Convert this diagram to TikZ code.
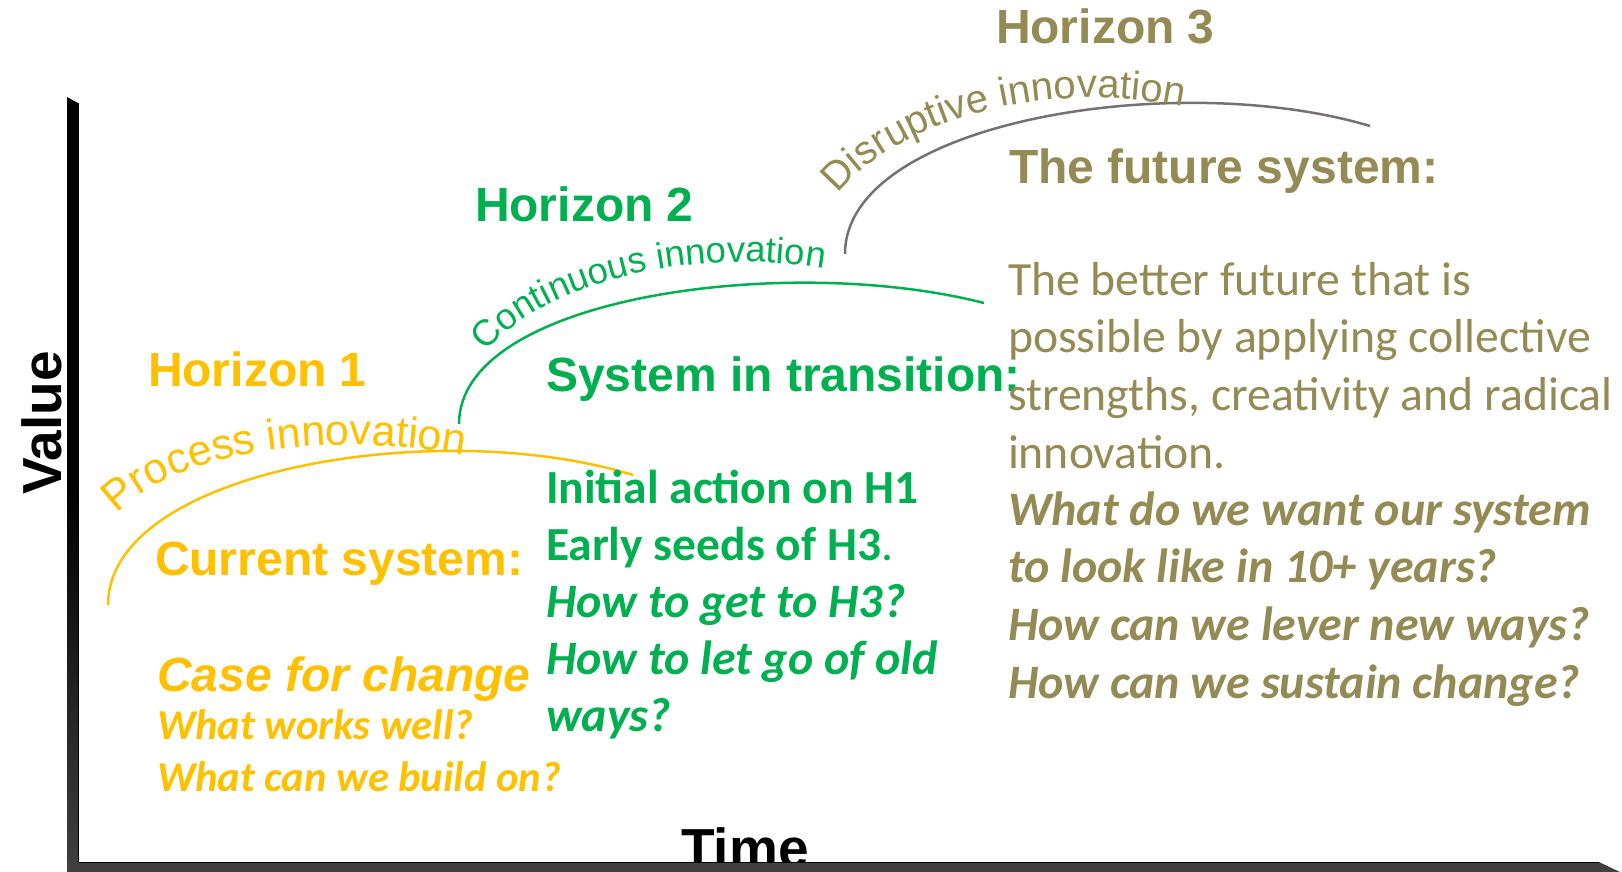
\documentclass[tikz,border=0pt]{standalone}
\usepackage{fontspec}
\setmainfont{Liberation Sans}
\newfontfamily\calfont{Carlito}
\usetikzlibrary{decorations.text}
\definecolor{hone}{HTML}{FFC000}
\definecolor{htwo}{HTML}{00B050}
\definecolor{hthree}{HTML}{948A54}
\definecolor{arcgray}{HTML}{767171}
\definecolor{axgray}{HTML}{404040}
\newcommand\fsz[1]{\fontsize{#1}{#1}\selectfont}
\begin{document}
\begin{tikzpicture}[x=1pt,y=-1pt,
  txt/.style={anchor=base west, inner sep=0pt, outer sep=0pt},
  head/.style={txt, font=\fsz{48}\bfseries},
  headit/.style={txt, font=\fsz{48}\bfseries\itshape},
  cal/.style={txt, font=\calfont\fsz{47.5}\bfseries},
  calit/.style={txt, font=\calfont\fsz{48}\bfseries\itshape},
  calrm/.style={txt, font=\calfont\fsz{47.7}},
  calq/.style={txt, font=\calfont\fsz{42.5}\bfseries\itshape},
  arc/.style={line width=2.5pt},
  arctext/.style={decorate, decoration={text along path, text align=left, text color=#1}}
]
\useasboundingbox (0,0) rectangle (1622,872);

% ---------- arcs ----------
\coordinate (ya) at (108,605); \coordinate (yb) at (633,475);
\coordinate (ga) at (459,424); \coordinate (gb) at (984,303);
\coordinate (ka) at (845,254); \coordinate (kb) at (1370,126);
\draw[arc, hone]   (ya) .. controls +(0,-135) and +(-195,-60) .. (yb);
\draw[arc, htwo]   (ga) .. controls +(0,-128) and +(-195,-50) .. (gb);
\draw[arc, arcgray] (ka) .. controls +(0,-132) and +(-195,-58) .. (kb);

% ---------- curved labels ----------
\path[arctext=hone, decoration={text={|\fsz{43}|Process innovation}}]
  (117,514) .. controls (166,462) and (300,424) .. (480,458);
\path[arctext=htwo, decoration={text={|\fsz{36.5}|Continuous innovation}}]
  (486,352) .. controls (536,290) and (685,240) .. (840,272);
\path[arctext=hthree, decoration={text={|\fsz{40}|Disruptive innovation}}]
  (838,194) .. controls (890,128) and (1040,70) .. (1205,112);

% ---------- Horizon 1 ----------
\node[head, text=hone] (hA) at (148,386) {Horizon 1};
\node[head, text=hone] (cur) at (155,575) {Current system:};
\node[headit, text=hone] (case) at (157,691) {Case for change};
\node[calq, text=hone] (qa) at (157,739) {What works well?};
\node[calq, text=hone] (qb) at (157,791) {What can we build on?};

% ---------- Horizon 2 ----------
\node[head, text=htwo] (hB) at (475,221) {Horizon 2};
\node[head, text=htwo] (sys) at (546,391) {System in transition:};
\node[cal, text=htwo] (ga1) at (546,503) {Initial action on H1};
\node[cal, text=htwo] (ga2) at (546,560) {Early seeds of H3\mdseries.};
\node[calit, text=htwo] (ga3) at (546,617) {How to get to H3?};
\node[calit, text=htwo] (ga4) at (546,674) {How to let go of old};
\node[calit, text=htwo] (ga5) at (546,731) {ways?};

% ---------- Horizon 3 ----------
\node[head, text=hthree] (hC) at (996,44) {Horizon 3};
\node[head, text=hthree] (fut) at (1009,183) {The future system:};
\node[calrm, text=hthree] (o1) at (1008,295) {The better future that is};
\node[calrm, text=hthree] (o2) at (1008,352) {possible by applying collective};
\node[calrm, text=hthree] (o3) at (1008,410) {strengths, creativity and radical};
\node[calrm, text=hthree] (o4) at (1008,468) {innovation.};
\node[calit, text=hthree] (o5) at (1008,525) {What do we want our system};
\node[calit, text=hthree] (o6) at (1008,582) {to look like in 10+ years?};
\node[calit, text=hthree] (o7) at (1008,640) {How can we lever new ways?};
\node[calit, text=hthree] (o8) at (1008,698) {How can we sustain change?};

% ---------- axes ----------
\node[anchor=base, inner sep=0pt, rotate=90, font=\fsz{55}\bfseries] (val) at (61,423) {Value};
\node[anchor=base, inner sep=0pt, font=\fsz{55}\bfseries] (time) at (745,867) {Time};
\shade[top color=black, bottom color=axgray, middle color=black]
  (67,97) -- (78,103) -- (78,873) -- (67,873) -- cycle;
\fill[axgray] (67,862) -- (1599,862) -- (1622,873) -- (67,873) -- cycle;
\draw[black, line width=1pt] (78.5,103) -- (78.5,862.5) -- (1599,862.5);
\end{tikzpicture}
\end{document}
